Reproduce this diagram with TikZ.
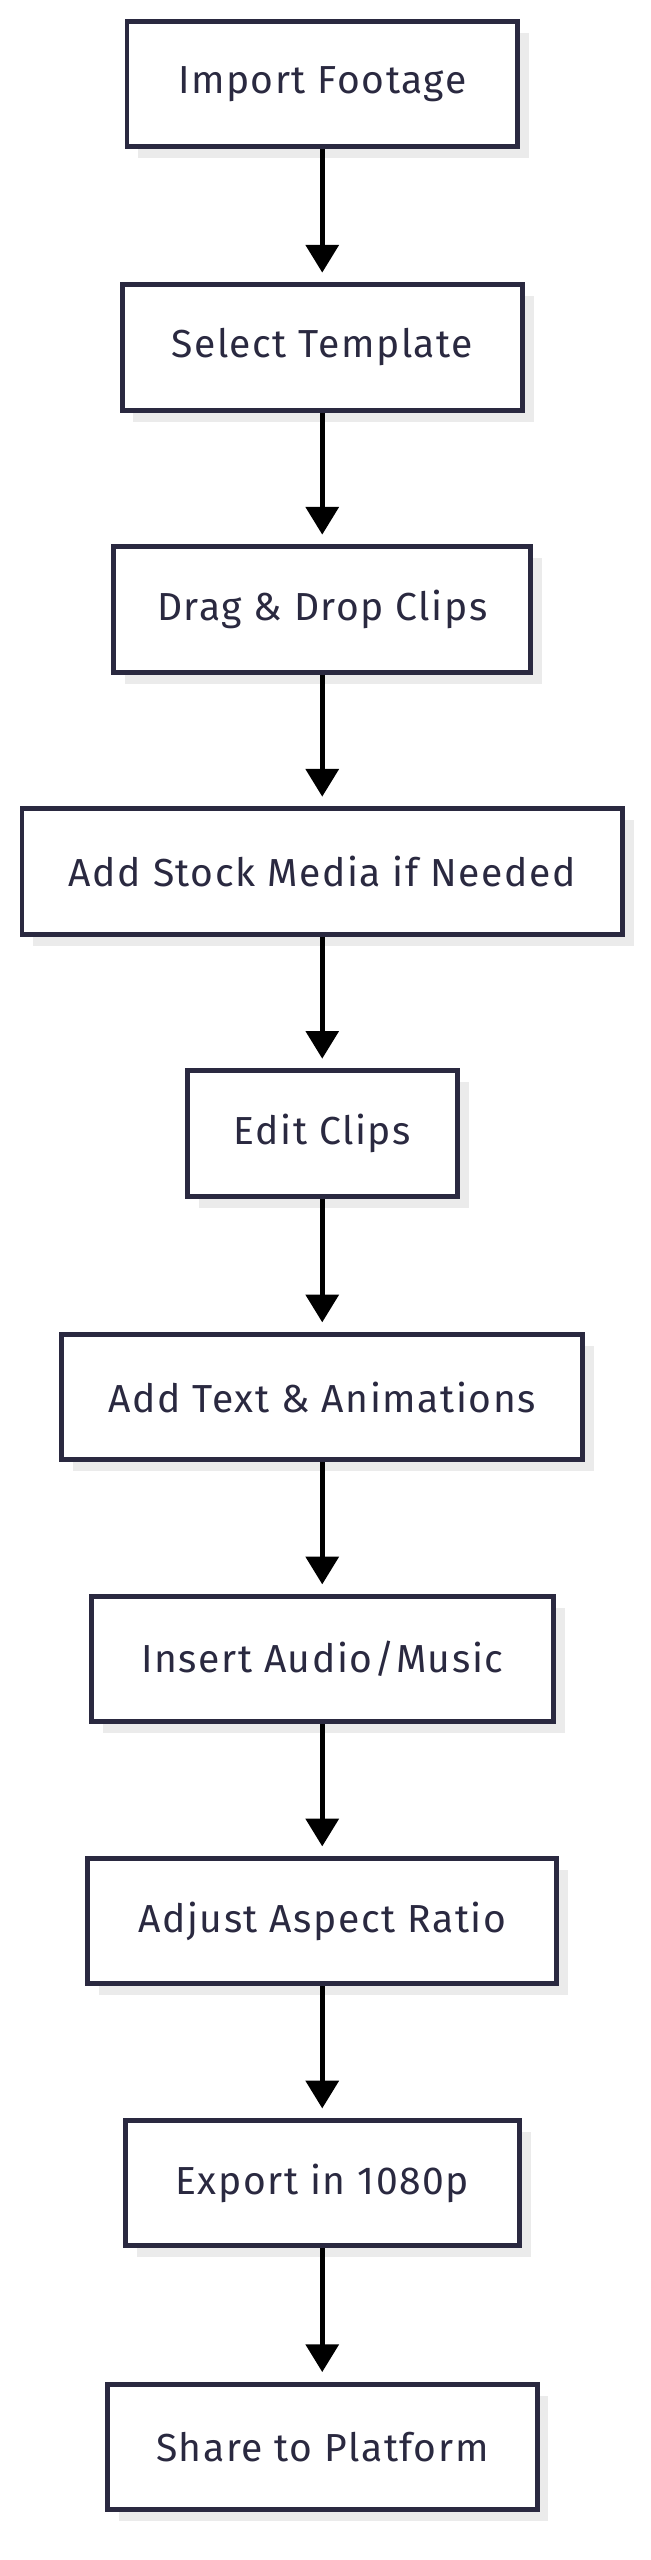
\documentclass[tikz,border=0pt]{standalone}
\usepackage{fontspec}
\setmainfont[LetterSpace=4]{Fira Sans}
\usetikzlibrary{arrows.meta}
\definecolor{bd}{HTML}{2A2940}
\definecolor{sh}{HTML}{EBEBEB}
\tikzset{
  stepbox/.style={draw=bd,line width=3pt,fill=white,minimum height=77pt,text=bd,font=\fontsize{24}{28}\selectfont,inner sep=0pt},
  conn/.style={line width=2.8pt,-{Triangle[width=20pt,length=17pt]}}
}
\newcommand{\mybox}[4]{% name, top, width, text
  \fill[sh] ({198-#3/2+7},{-#2-7}) rectangle ({198+#3/2+7},{-#2-77-7});
  \node[stepbox,minimum width=#3 pt] (#1) at (198,{-#2-38.5}) {#4};
}
\begin{document}
\begin{tikzpicture}[x=1pt,y=1pt]
\useasboundingbox (0,0) rectangle (400,-1573);
\mybox{a}{13}{240}{Import Footage}
\mybox{b}{175}{246}{Select Template}
\mybox{c}{336}{256}{Drag \& Drop Clips}
\mybox{d}{497}{369}{Add Stock Media if Needed}
\mybox{e}{658}{166}{Edit Clips}
\mybox{f}{820}{320}{Add Text \& Animations}
\mybox{g}{981}{284}{Insert Audio/Music}
\mybox{h}{1142}{288}{Adjust Aspect Ratio}
\mybox{i}{1303}{242}{Export in 1080p}
\mybox{j}{1465}{264}{Share to Platform}
\foreach \p/\q in {a/b,b/c,c/d,d/e,e/f,f/g,g/h,h/i,i/j}
  \draw[conn] (\p.south) -- ([yshift=6pt]\q.north);
\end{tikzpicture}
\end{document}
